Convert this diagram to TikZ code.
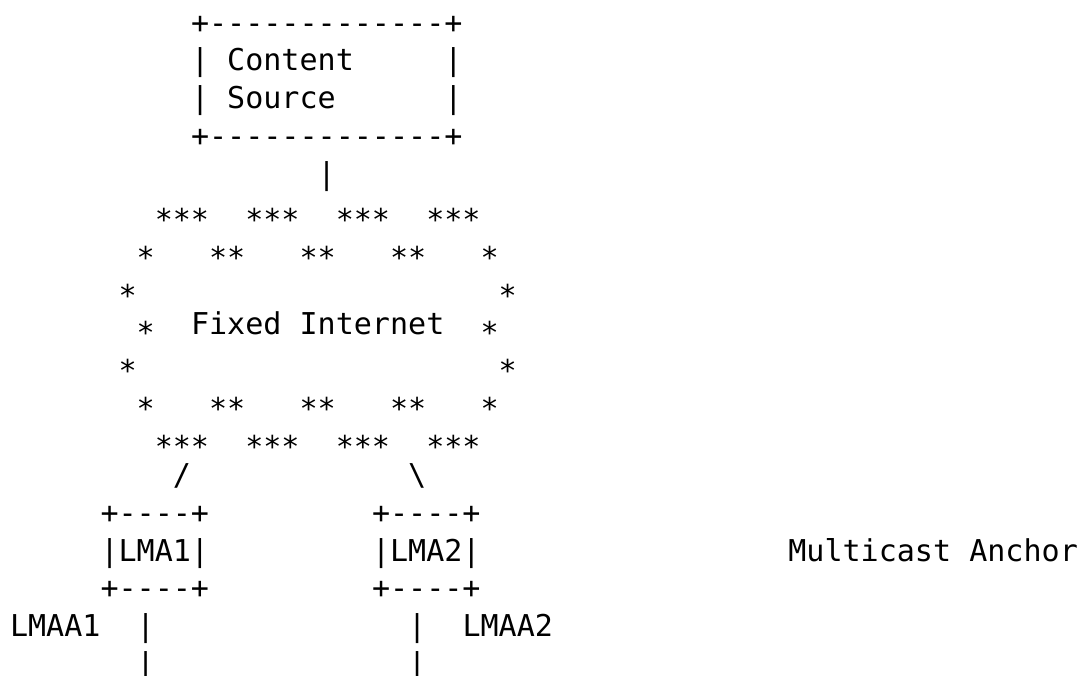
\documentclass[tikz,border=0pt]{standalone}
\usepackage{fontspec}
\setmonofont{DejaVu Sans Mono}
\newcommand\st{\raisebox{-0.3em}{*}}
\tikzset{
  t/.style={anchor=base west, inner sep=0pt, outer sep=0pt,
            font=\ttfamily\fontsize{30.06pt}{36pt}\selectfont}
}
\newcommand\place[4]{% name, row, col, text
  \node[t] (#1) at ({10pt + #3*18.1pt}, {676pt - 71pt - (#2-2)*37.7pt}) {#4};}
\begin{document}
\begin{tikzpicture}[x=1pt,y=1pt]
\useasboundingbox (0,0) rectangle (1087,676);
% content source box
\place{cstop}{1}{10}{+-------------+}
\place{csl1}{2}{10}{|}
\place{cs1}{2}{12}{Content}
\place{csr1}{2}{24}{|}
\place{csl2}{3}{10}{|}
\place{cs2}{3}{12}{Source}
\place{csr2}{3}{24}{|}
\place{csbot}{4}{10}{+-------------+}
\place{cslink}{5}{17}{|}
% cloud
\place{c6a}{6}{8}{\st\st\st}
\place{c6b}{6}{13}{\st\st\st}
\place{c6c}{6}{18}{\st\st\st}
\place{c6d}{6}{23}{\st\st\st}
\place{c7a}{7}{7}{\st}
\place{c7b}{7}{11}{\st\st}
\place{c7c}{7}{16}{\st\st}
\place{c7d}{7}{21}{\st\st}
\place{c7e}{7}{26}{\st}
\place{c8a}{8}{6}{\st}
\place{c8b}{8}{27}{\st}
\place{c9a}{9}{7}{\st}
\place{fixed}{9}{10}{Fixed Internet}
\place{c9b}{9}{26}{\st}
\place{c10a}{10}{6}{\st}
\place{c10b}{10}{27}{\st}
\place{c11a}{11}{7}{\st}
\place{c11b}{11}{11}{\st\st}
\place{c11c}{11}{16}{\st\st}
\place{c11d}{11}{21}{\st\st}
\place{c11e}{11}{26}{\st}
\place{c12a}{12}{8}{\st\st\st}
\place{c12b}{12}{13}{\st\st\st}
\place{c12c}{12}{18}{\st\st\st}
\place{c12d}{12}{23}{\st\st\st}
% links to LMAs
\place{sl}{13}{9}{/}
\place{bs}{13}{22}{\textbackslash}
% LMA boxes
\place{l1top}{14}{5}{+----+}
\place{l2top}{14}{20}{+----+}
\place{lma1}{15}{5}{|LMA1|}
\place{lma2}{15}{20}{|LMA2|}
\place{anchor}{15}{43}{Multicast Anchor}
\place{l1bot}{16}{5}{+----+}
\place{l2bot}{16}{20}{+----+}
% LMAA
\place{lmaa1}{17}{0}{LMAA1}
\place{v1a}{17}{7}{|}
\place{v2a}{17}{22}{|}
\place{lmaa2}{17}{25}{LMAA2}
\place{v1b}{18}{7}{|}
\place{v2b}{18}{22}{|}
\end{tikzpicture}
\end{document}
